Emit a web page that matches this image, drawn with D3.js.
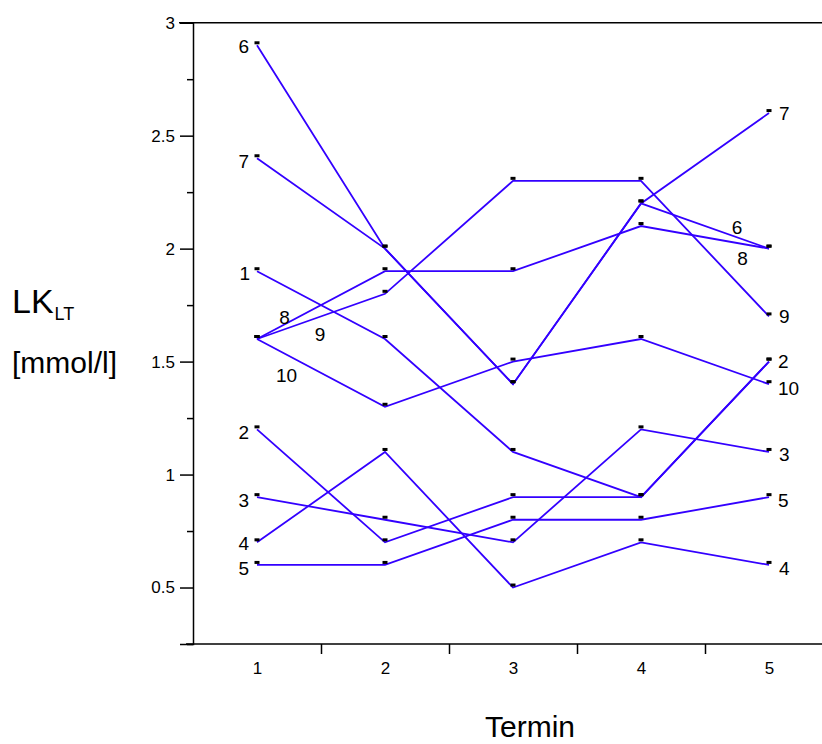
<!DOCTYPE html>
<html>
<head>
<meta charset="utf-8">
<script src="https://cdn.jsdelivr.net/npm/d3@7"></script>
<style>
  html, body { margin: 0; padding: 0; background: #fff; }
  svg { display: block; font-family: "Liberation Sans", Arial, sans-serif; }
</style>
</head>
<body>
<svg id="chart" width="822" height="744"></svg>
<script>
// ---- data ----
const terms = [1, 2, 3, 4, 5];
const seriesNames = ["1", "2", "3", "4", "5", "6", "7", "8", "9", "10"];
const s1  = [1.9, 1.6, 1.1, 0.9, 1.5];
const s2  = [1.2, 0.7, 0.9, 0.9, 1.5];
const s3  = [0.9, 0.8, 0.7, 1.2, 1.1];
const s4  = [0.7, 1.1, 0.5, 0.7, 0.6];
const s5  = [0.6, 0.6, 0.8, 0.8, 0.9];
const s6  = [2.9, 2.0, 1.4, 2.2, 2.0];
const s7  = [2.4, 2.0, 1.4, 2.2, 2.6];
const s8  = [1.6, 1.9, 1.9, 2.1, 2.0];
const s9  = [1.6, 1.8, 2.3, 2.3, 1.7];
const s10 = [1.6, 1.3, 1.5, 1.6, 1.4];
const seriesValues = [s1, s2, s3, s4, s5, s6, s7, s8, s9, s10];
const yMajorTicks = [0.5, 1, 1.5, 2, 2.5, 3];
const yMinorTicks = [0.25, 0.75, 1.25, 1.75, 2.25, 2.75];
const xBoundaryTicks = [1.5, 2.5, 3.5, 4.5];

// label placement: [series index, term index, dx, dy, anchor]
const labelLayout = [
  [5, 0, -8, 1, "end"], [6, 0, -8, 3, "end"], [0, 0, -7, 2, "end"],
  [1, 0, -8, 3, "end"], [2, 0, -8, 3, "end"], [3, 0, -8, 1, "end"],
  [4, 0, -8, 3, "end"],
  [7, 0, 27.5, -21.5, "middle"], [8, 0, 63, -4.5, "middle"], [9, 0, 29.5, 36.5, "middle"],
  [6, 4, 10, 0, "start"], [8, 4, 10, 0, "start"], [1, 4, 9, 0, "start"],
  [9, 4, 9, 4, "start"], [2, 4, 10, 2, "start"], [4, 4, 9, 3, "start"],
  [3, 4, 10, 3, "start"],
  [5, 4, -32, -21, "middle"], [7, 4, -26.5, 10, "middle"]
];

// ---- layout ----
const svg = d3.select("#chart");
const x = d3.scaleLinear().domain([0.5, 5.5]).range([193, 833]);
const y = d3.scaleLinear().domain([0.25, 3]).range([644, 22.7]);
const lineColor = "#3300ff";

// top frame line
svg.append("line").attr("x1", 179).attr("x2", 822).attr("y1", y(3)).attr("y2", y(3))
  .attr("stroke", "#000").attr("stroke-width", 1.5);

// Y axis
const yAxis = svg.append("g").attr("transform", `translate(${x(0.5)},0)`)
  .call(d3.axisLeft(y).tickValues(yMajorTicks).tickSize(13).tickPadding(5)
    .tickFormat(d => String(d)));
yAxis.select(".domain").attr("stroke-width", 1.5);
yAxis.selectAll(".tick line").attr("stroke-width", 1.5);
yAxis.selectAll("text").attr("font-size", 17).attr("fill", "#000")
  .style("font-family", "'Liberation Sans', Arial, sans-serif");
const yMinor = svg.append("g").attr("transform", `translate(${x(0.5)},0)`)
  .call(d3.axisLeft(y).tickValues(yMinorTicks).tickSize(6).tickFormat(""));
yMinor.select(".domain").remove();
yMinor.selectAll(".tick line").attr("stroke-width", 1.5);

// X axis
const xAxis = svg.append("g").attr("transform", `translate(0,${y(0.25)})`)
  .call(d3.axisBottom(x).tickValues(xBoundaryTicks).tickSize(10).tickFormat(""));
xAxis.select(".domain").remove();
xAxis.selectAll(".tick line").attr("stroke-width", 1.5);
svg.append("line").attr("x1", 186).attr("x2", 822).attr("y1", y(0.25)).attr("y2", y(0.25))
  .attr("stroke", "#000").attr("stroke-width", 1.5);
const xLabels = svg.append("g").attr("transform", `translate(0,${y(0.25)})`)
  .call(d3.axisBottom(x).tickValues(terms).tickSize(0).tickPadding(18).tickFormat(d => String(d)));
xLabels.select(".domain").remove();
xLabels.selectAll("text").attr("font-size", 17).attr("fill", "#000")
  .style("font-family", "'Liberation Sans', Arial, sans-serif");

// axis titles
const yTitle = svg.append("text").attr("x", 12).attr("y", 313).attr("font-size", 34).attr("fill", "#000");
yTitle.append("tspan").text("LK");
yTitle.append("tspan").attr("font-size", 18).attr("dx", 1).attr("dy", 7).text("LT");
svg.append("text").attr("x", 12).attr("y", 373).attr("font-size", 30).attr("fill", "#000").text("[mmol/l]");
svg.append("text").attr("x", 530).attr("y", 737).attr("text-anchor", "middle")
  .attr("font-size", 30).attr("fill", "#000").text("Termin");

// lines
const line = d3.line().x((d, i) => x(terms[i])).y(d => y(d));
svg.append("g").selectAll("path").data(seriesValues).join("path")
  .attr("d", d => line(d)).attr("fill", "none")
  .attr("stroke", lineColor).attr("stroke-width", 1.8).attr("stroke-linejoin", "miter");

// markers
const pts = [];
seriesValues.forEach(vals => vals.forEach((v, i) => pts.push({ t: terms[i], v })));
svg.append("g").selectAll("rect").data(pts).join("rect")
  .attr("x", d => x(d.t) - 2.5).attr("y", d => y(d.v) - 4)
  .attr("width", 5).attr("height", 3).attr("fill", "#000");

// series labels
svg.append("g").selectAll("text").data(labelLayout).join("text")
  .attr("x", d => x(terms[d[1]]) + d[2])
  .attr("y", d => y(seriesValues[d[0]][d[1]]) + d[3])
  .attr("dy", "0.35em")
  .attr("text-anchor", d => d[4])
  .attr("font-size", 19).attr("fill", "#000")
  .text(d => seriesNames[d[0]]);
</script>
</body>
</html>
